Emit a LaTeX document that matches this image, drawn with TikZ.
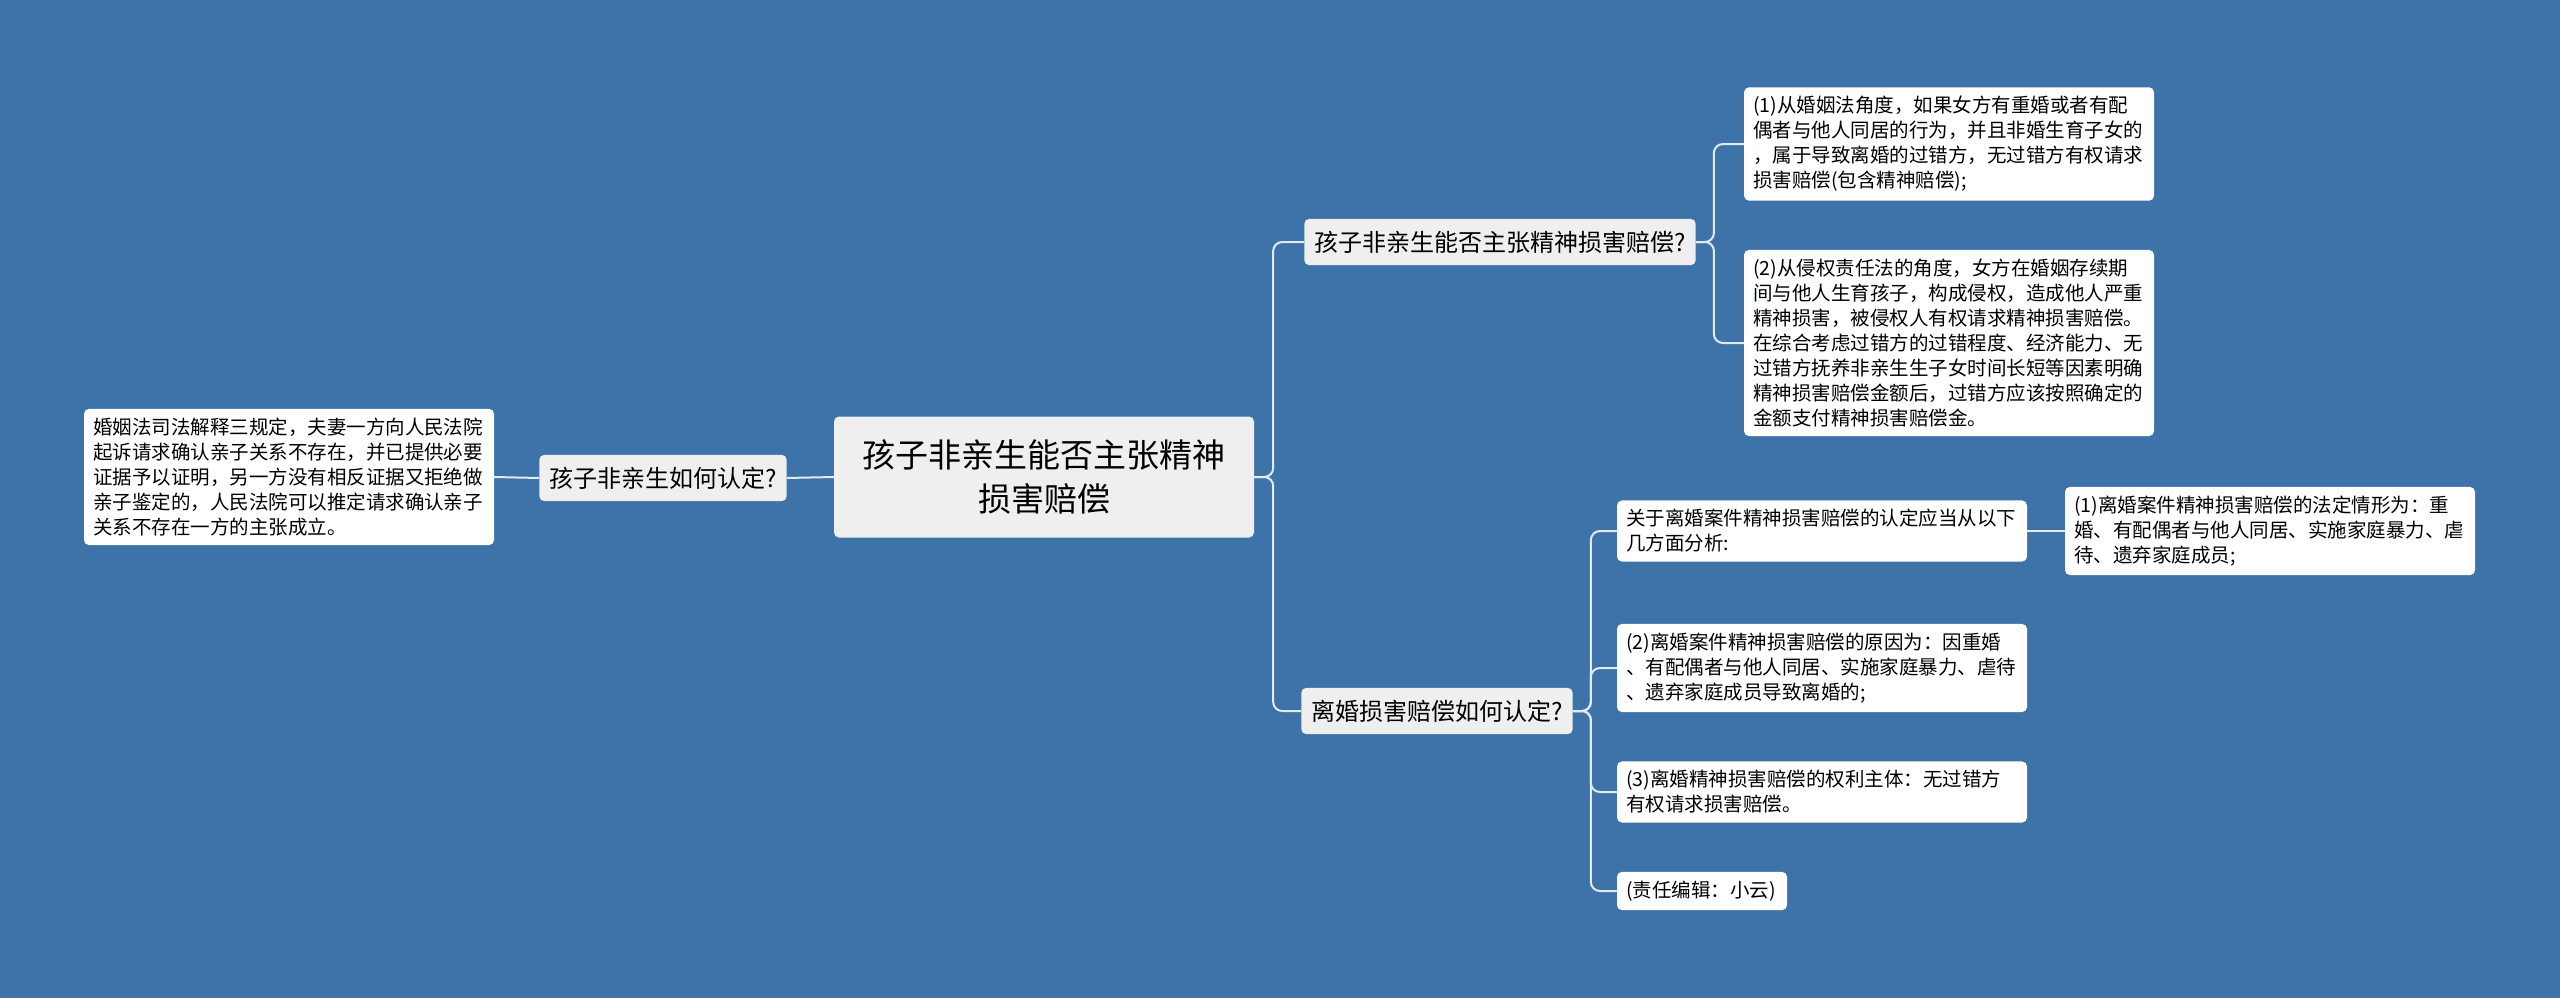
\documentclass[tikz,border=0pt]{standalone}
\usepackage{fontspec}
\setmainfont{Noto Sans CJK SC}
\definecolor{bgblue}{HTML}{3D73A8}
\definecolor{topicgray}{HTML}{EFEFEF}
\tikzset{
  leaf/.style={draw=none,fill=white,rounded corners=5pt,text width=392pt,inner sep=9pt,align=left,
    font=\fontsize{19.5pt}{25pt}\selectfont},
  topic/.style={fill=topicgray,rounded corners=5pt,inner xsep=10pt,inner ysep=12pt,
    font=\fontsize{24pt}{30pt}\selectfont},
  link/.style={draw=white!85!bgblue,line width=2pt,rounded corners=9pt}
}
\begin{document}
\begin{tikzpicture}[x=1pt,y=-1pt]
  \fill[bgblue] (0,0) rectangle (2560,998);
  \useasboundingbox (0,0) rectangle (2560,998);
  % centre
  \node[topic,align=center,text width=400pt,minimum height=121pt,
        font=\fontsize{33pt}{44pt}\selectfont] (root) at (1044,477)
        {孩子非亲生能否主张精神\\损害赔偿};
  % left side
  \node[topic] (left) at (663,478) {孩子非亲生如何认定?};
  \node[leaf] (leftleaf) at (289,477) {婚姻法司法解释三规定，夫妻一方向人民法院\\起诉请求确认亲子关系不存在，并已提供必要\\证据予以证明，另一方没有相反证据又拒绝做\\亲子鉴定的，人民法院可以推定请求确认亲子\\关系不存在一方的主张成立。};
  % right side
  \node[topic] (rone) at (1500,242) {孩子非亲生能否主张精神损害赔偿?};
  \node[topic] (rtwo) at (1437,711) {离婚损害赔偿如何认定?};
  \node[leaf] (ronea) at (1949,144) {(1)从婚姻法角度，如果女方有重婚或者有配\\偶者与他人同居的行为，并且非婚生育子女的\\，属于导致离婚的过错方，无过错方有权请求\\损害赔偿(包含精神赔偿);};
  \node[leaf] (roneb) at (1949,343) {(2)从侵权责任法的角度，女方在婚姻存续期\\间与他人生育孩子，构成侵权，造成他人严重\\精神损害，被侵权人有权请求精神损害赔偿。\\在综合考虑过错方的过错程度、经济能力、无\\过错方抚养非亲生生子女时间长短等因素明确\\精神损害赔偿金额后，过错方应该按照确定的\\金额支付精神损害赔偿金。};
  \node[leaf] (rtwoa) at (1822,531) {关于离婚案件精神损害赔偿的认定应当从以下\\几方面分析:};
  \node[leaf] (rtwoaa) at (2270,531) {(1)离婚案件精神损害赔偿的法定情形为：重\\婚、有配偶者与他人同居、实施家庭暴力、虐\\待、遗弃家庭成员;};
  \node[leaf] (rtwob) at (1822,668) {(2)离婚案件精神损害赔偿的原因为：因重婚\\、有配偶者与他人同居、实施家庭暴力、虐待\\、遗弃家庭成员导致离婚的;};
  \node[leaf] (rtwoc) at (1822,792) {(3)离婚精神损害赔偿的权利主体：无过错方\\有权请求损害赔偿。};
  \node[leaf,text width=152pt] (rtwod) at (1702,891) {(责任编辑：小云)};
  % connectors
  \draw[link] (root.west) -- (left.east);
  \draw[link] (left.west) -- (leftleaf.east);
  \draw[link] (root.east) -- ++(19,0) |- (rone.west);
  \draw[link] (root.east) -- ++(19,0) |- (rtwo.west);
  \draw[link] (rone.east) -- ++(18,0) |- (ronea.west);
  \draw[link] (rone.east) -- ++(18,0) |- (roneb.west);
  \draw[link] (rtwo.east) -- ++(18,0) |- (rtwoa.west);
  \draw[link] (rtwo.east) -- ++(18,0) |- (rtwob.west);
  \draw[link] (rtwo.east) -- ++(18,0) |- (rtwoc.west);
  \draw[link] (rtwo.east) -- ++(18,0) |- (rtwod.west);
  \draw[link] (rtwoa.east) -- (rtwoaa.west);
\end{tikzpicture}
\end{document}
